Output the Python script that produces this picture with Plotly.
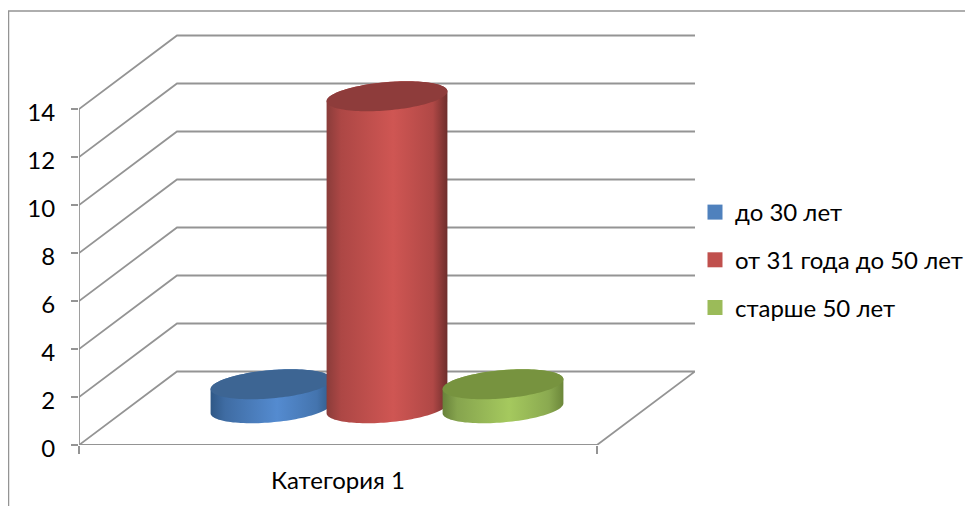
import math
import plotly.graph_objects as go

# Data
categories = ["Категория 1"]
series_names = ["до 30 лет", "от 31 года до 50 лет", "старше 50 лет"]
series_values = [1, 13, 1]
y_ticks = [0, 2, 4, 6, 8, 10, 12, 14]

# Styles
legend_colors = ["#4f81bd", "#c0504d", "#9bbb59"]
top_colors = ["#3d6593", "#8e3c3b", "#77933f"]
body_scales = [
    [[0, "#2f5886"], [0.12, "#3f6ca3"], [0.55, "#548bd0"], [0.88, "#4474ae"], [1, "#305a8a"]],
    [[0, "#8a3c3a"], [0.12, "#ad4745"], [0.55, "#cf5653"], [0.88, "#b04846"], [1, "#6e2e2c"]],
    [[0, "#68823a"], [0.12, "#86a44e"], [0.55, "#a5c95e"], [0.88, "#8aa950"], [1, "#6c873a"]],
]
GREY = "#949494"
FONT = "Lato, Carlito, Calibri, sans-serif"

# Oblique-projection frame, in axis units
PX_X, PX_Y = 518, 24          # pixels per category width / per value unit
FIG_W, FIG_H = 965, 498       # figure sits 8px in from the page corner
L, R, T, B = 71, 278, 3, 61
PLOT_W, PLOT_H = FIG_W - L - R, FIG_H - T - B
DEPTH_X, DEPTH_Y = 98 / PX_X, 73.5 / PX_Y
X_MAX = 1 + DEPTH_X
RX = 57 / PX_X
R_DEPTH = 15 / 73.5
SPACING = 116 / PX_X

fig = go.Figure()


def line(xs, ys):
    fig.add_trace(go.Scatter(x=xs, y=ys, mode="lines", line=dict(color=GREY, width=1.8),
                             hoverinfo="skip", showlegend=False))


# Walls and floor
for v in y_ticks[1:]:
    line([0, DEPTH_X, X_MAX], [v, v + DEPTH_Y, v + DEPTH_Y])
line([0, DEPTH_X, X_MAX, 1, 0], [0, DEPTH_Y, DEPTH_Y, 0, 0])
line([0, 0], [y_ticks[0], y_ticks[-1]])


def ring(cx, cy, t0, t1, n=60):
    kx, ky = DEPTH_X * R_DEPTH, DEPTH_Y * R_DEPTH
    xs, ys = [], []
    for i in range(n + 1):
        t = t0 + (t1 - t0) * i / n
        xs.append(cx + RX * math.cos(t) + kx * math.sin(t))
        ys.append(cy + ky * math.sin(t))
    return xs, ys


# Cylinders
t_ext = math.atan2(DEPTH_X * R_DEPTH, RX)
for i, value in enumerate(series_values):
    cx = 0.5 + DEPTH_X / 2 + (i - 1) * SPACING
    base = DEPTH_Y / 2
    top = base + value
    x1, y1 = ring(cx, top, t_ext, t_ext + math.pi)
    x2, y2 = ring(cx, base, t_ext + math.pi, t_ext + 2 * math.pi)
    fig.add_trace(go.Scatter(x=x1 + x2 + [x1[0]], y=y1 + y2 + [y1[0]], mode="none", fill="toself",
                             fillgradient=dict(type="horizontal", colorscale=body_scales[i]),
                             hoverinfo="skip", showlegend=False))
    x3, y3 = ring(cx, top, 0, 2 * math.pi, 120)
    fig.add_trace(go.Scatter(x=x3, y=y3, mode="none", fill="toself", fillcolor=top_colors[i],
                             name=series_names[i], hoverinfo="skip", showlegend=False))

# Legend entries
for name, color in zip(series_names, legend_colors):
    fig.add_trace(go.Scatter(x=[None], y=[None], mode="markers", name=name, legendgroup=name,
                             marker=dict(symbol="square", size=15, color=color)))

fig.update_layout(
    width=FIG_W, height=FIG_H, autosize=False,
    margin=dict(l=L, r=R, t=T, b=B),
    paper_bgcolor="white", plot_bgcolor="white",
    font=dict(family=FONT, size=24, color="black"),
    xaxis=dict(range=[0, X_MAX], showgrid=False, zeroline=False, showline=False,
               tickvals=[0.5], ticktext=categories, ticks="", ticklabelstandoff=19,
               minor=dict(tickvals=[0, 1], ticks="outside", ticklen=8, tickwidth=1.8,
                          tickcolor=GREY, showgrid=False)),
    yaxis=dict(range=[0, PLOT_H / PX_Y], showgrid=False, zeroline=False, showline=False,
               tickvals=y_ticks, ticks="outside", ticklen=7, tickwidth=1.8, tickcolor=GREY,
               ticklabelstandoff=11, ticklabelshift=4),
    legend=dict(x=1.0, xanchor="left", y=255 / PLOT_H, yanchor="top",
                tracegroupgap=13.5, traceorder="grouped", itemsizing="trace",
                bgcolor="rgba(0,0,0,0)", font=dict(size=24)),
    shapes=[dict(type="path", xref="paper", yref="paper", layer="above",
                 path=f"M {(0.5 - L) / PLOT_W} {-B / PLOT_H} L {(0.5 - L) / PLOT_W} 1 "
                      f"L {(FIG_W - L) / PLOT_W} 1",
                 line=dict(color=GREY, width=1.5))],
)
fig.write_html("out.html")
